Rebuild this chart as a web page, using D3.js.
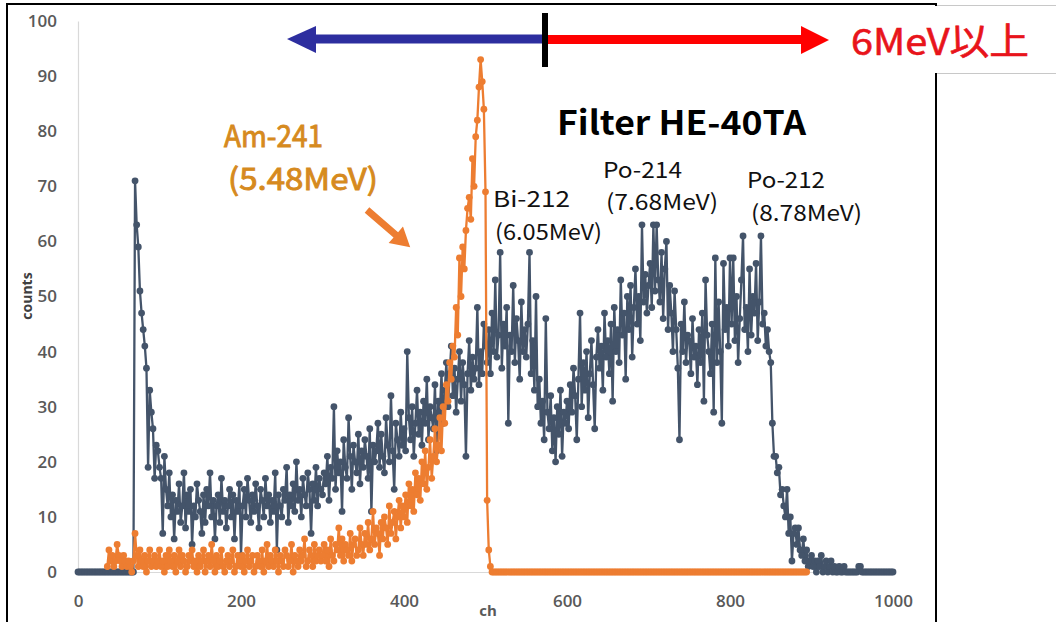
<!DOCTYPE html>
<html>
<head>
<meta charset="utf-8">
<script src="https://cdn.jsdelivr.net/npm/d3@7"></script>
<style>
  body { margin: 0; background: #fff; }
</style>
</head>
<body>
<svg id="chart"></svg>
<script>
// channel step between stored points, first channel of each series
var step = 2;
var navyStart = 0;
var orangeStart = 36;

// Filter HE-40TA spectrum (counts per channel)
var navyCounts = [
  0,0,0,0,0,0,0,0,0,0,0,0,0,0,0,0,0,0,0,0,0,0,0,0,0,
  0,0,0,0,0,0,0,0,0,0,71,63,59,51,47,44,41,37,19,33,29,26,17,23,22,
  19,17,7,21,15,12,18,10,14,6,13,11,16,9,12,18,8,14,11,15,5,12,10,16,13,
  11,7,14,9,15,12,18,10,13,6,12,14,9,17,11,13,8,12,15,10,14,6,13,11,16,
  3,12,15,10,17,13,9,14,11,16,12,8,15,13,10,17,12,14,9,13,11,18,4,14,12,
  10,15,13,19,9,14,12,16,11,20,13,15,10,17,14,12,18,15,7,16,13,19,12,17,15,
  14,18,16,21,13,19,17,30,15,22,18,20,11,24,19,17,28,21,15,23,20,18,25,16,22,
  19,24,21,17,26,11,23,20,22,27,19,25,21,18,28,23,20,32,22,15,27,24,21,29,23,
  26,22,40,28,24,30,21,27,33,25,29,23,31,27,35,24,30,28,26,34,22,31,29,36,27,
  33,38,30,36,41,32,37,29,35,40,31,38,34,21,36,42,33,39,35,37,48,34,40,36,45,
  41,38,44,36,47,40,53,39,43,58,37,45,41,48,27,43,40,52,38,46,42,35,49,40,44,
  39,45,58,36,42,33,50,30,35,27,31,24,46,29,26,32,22,28,20,30,25,33,21,29,27,
  31,26,34,29,37,32,24,35,47,30,38,33,40,28,36,42,34,26,39,44,37,41,33,47,39,
  42,36,45,31,48,40,44,38,53,43,47,35,50,44,52,39,48,55,45,50,42,63,49,54,47,
  52,56,48,63,51,63,53,49,58,46,55,60,44,52,47,40,51,44,37,24,45,40,49,38,43,
  42,36,46,39,41,34,44,38,47,31,53,43,40,36,45,29,57,38,49,40,27,56,44,48,41,
  57,45,57,42,50,38,46,53,61,44,48,40,55,43,50,47,56,42,49,61,45,47,41,44,40,
  38,27,21,21,18,19,14,15,12,10,15,7,10,2,7,8,5,8,4,3,6,2,4,1,2,
  3,1,2,0,2,1,3,0,1,2,0,1,2,0,1,0,0,1,0,0,1,0,0,0,0,
  0,0,0,0,1,1,0,0,0,0,0,0,0,0,0,0,0,0,0,0,0,0,0,0,0,
  0
];

// Am-241 reference source
var orangeCounts = [
  1,4,2,3,1,2,5,
  3,2,1,3,2,1,2,1,0,2,7,3,1,4,2,1,3,0,2,4,1,2,3,1,2,
  4,1,2,0,3,1,4,2,1,3,0,2,4,1,3,2,0,1,3,2,4,1,2,0,3,
  1,2,4,0,2,3,1,5,2,0,3,1,2,4,1,0,2,3,1,2,4,0,1,3,2,
  1,3,0,2,4,1,2,3,0,1,3,2,1,4,0,2,5,1,3,2,1,4,2,0,3,
  2,1,4,3,1,2,5,0,3,2,1,4,2,3,6,1,2,4,3,1,5,2,3,4,2,
  3,5,2,4,1,6,3,2,5,4,8,3,6,2,5,4,3,7,2,5,6,3,4,8,5,
  3,7,5,9,4,6,11,5,8,7,3,9,6,10,8,5,12,7,9,11,6,10,13,8,12,
  10,14,9,16,12,15,11,18,14,17,13,20,16,22,15,19,24,17,21,26,20,23,28,22,30,
  27,34,31,38,35,41,39,48,43,57,50,59,55,62,66,68,64,75,70,79,82,88,93,89,84,
  69,13,4,1,0,0,0,0,0,0,0,0,0,0,0,0,0,0,0,0,0,0,0,0,0,
  0,0,0,0,0,0,0,0,0,0,0,0,0,0,0,0,0,0,0,0,0,0,0,0,0,
  0,0,0,0,0,0,0,0,0,0,0,0,0,0,0,0,0,0,0,0,0,0,0,0,0,
  0,0,0,0,0,0,0,0,0,0,0,0,0,0,0,0,0,0,0,0,0,0,0,0,0,
  0,0,0,0,0,0,0,0,0,0,0,0,0,0,0,0,0,0,0,0,0,0,0,0,0,
  0,0,0,0,0,0,0,0,0,0,0,0,0,0,0,0,0,0,0,0,0,0,0,0,0,
  0,0,0,0,0,0,0,0,0,0,0,0,0,0,0,0,0,0,0,0,0,0,0,0,0,
  0,0,0,0,0,0,0,0,0,0,0,0,0,0,0,0,0,0,0,0,0,0,0
];

var yTicks = [0, 10, 20, 30, 40, 50, 60, 70, 80, 90, 100];
var xTicks = [0, 200, 400, 600, 800, 1000];
var peakNames = ["Bi-212", "Po-214", "Po-212"];
var peakEnergies = ["(6.05MeV)", "(7.68MeV)", "(8.78MeV)"];
var amName = "Am-241", amEnergy = "(5.48MeV)";
var titleText = "Filter HE-40TA";
var rangeText = "6MeV以上";
var xLabel = "ch", yLabel = "counts";

var width = 1056, height = 622;
var navyColor = "#44546A", orangeColor = "#ED7D31";
var jpFont = "'Noto Sans CJK JP', 'Noto Sans', sans-serif";

var svg = d3.select("#chart")
    .attr("width", width)
    .attr("height", height)
    .style("display", "block");

// set the ranges
var x = d3.scaleLinear().domain([0, 1000]).range([78, 893]);
var y = d3.scaleLinear().domain([0, 100]).range([572, 21]);

// outer frame of the picture
svg.append("rect")
    .attr("x", 7).attr("y", 4)
    .attr("width", 929).attr("height", 660)
    .attr("fill", "#fff")
    .attr("stroke", "#000")
    .attr("stroke-width", 2);

// Y axis
var yAxis = svg.append("g")
    .attr("transform", "translate(" + x(0) + ",0)")
    .call(d3.axisLeft(y).tickValues(yTicks).tickSize(0).tickPadding(21));
// X axis
var xAxis = svg.append("g")
    .attr("transform", "translate(0," + y(0) + ")")
    .call(d3.axisBottom(x).tickValues(xTicks).tickFormat(d3.format("d")).tickSize(0).tickPadding(23));

[yAxis, xAxis].forEach(function(g) {
    g.select(".domain").attr("stroke", "#D9D9D9").attr("stroke-width", 1.2);
    g.selectAll("text")
        .attr("fill", "#595959")
        .style("font-family", "'Open Sans', sans-serif")
        .style("font-size", "17px")
        .style("font-weight", "600");
});

svg.append("text")
    .attr("x", 488).attr("y", 616)
    .attr("text-anchor", "middle")
    .attr("fill", "#595959")
    .style("font-family", "'Open Sans', sans-serif")
    .style("font-size", "15px")
    .style("font-weight", "700")
    .text(xLabel);

svg.append("text")
    .attr("transform", "translate(32,296) rotate(-90)")
    .attr("text-anchor", "middle")
    .attr("fill", "#404040")
    .style("font-family", "'Open Sans', sans-serif")
    .style("font-size", "14px")
    .style("font-weight", "700")
    .text(yLabel);

// series
function toPoints(values, start) {
    return values.map(function(v, i) { return { ch: start + i * step, v: v }; });
}

var valueline = d3.line()
    .x(function(d) { return x(d.ch); })
    .y(function(d) { return y(d.v); });

function drawSeries(values, start, color, cls) {
    var pts = toPoints(values, start);
    svg.append("path")
        .datum(pts)
        .attr("class", "line " + cls)
        .attr("d", valueline)
        .attr("fill", "none")
        .attr("stroke", color)
        .attr("stroke-width", 2.3)
        .attr("stroke-linejoin", "round");
    svg.append("g").selectAll("circle")
        .data(pts)
        .enter().append("circle")
        .attr("class", "dot " + cls)
        .attr("cx", function(d) { return x(d.ch); })
        .attr("cy", function(d) { return y(d.v); })
        .attr("r", 3.4)
        .attr("fill", color);
}

drawSeries(navyCounts, navyStart, navyColor, "navy");
drawSeries(orangeCounts, orangeStart, orangeColor, "orange");

// energy range arrows at the top
svg.append("rect").attr("x", 312).attr("y", 34.5).attr("width", 233).attr("height", 9).attr("fill", "#2D2E9F");
svg.append("polygon").attr("points", "287,39 316,26 316,53").attr("fill", "#2D2E9F");
svg.append("rect").attr("x", 545).attr("y", 35).attr("width", 258).attr("height", 9).attr("fill", "#FF0000");
svg.append("polygon").attr("points", "829,40 801,26 801,54").attr("fill", "#FF0000");
svg.append("rect").attr("x", 542).attr("y", 13).attr("width", 6).attr("height", 54).attr("fill", "#000");

// box for the 6MeV label (sits over the frame)
svg.append("rect").attr("x", 846).attr("y", 6).attr("width", 215).attr("height", 67).attr("fill", "#fff");
svg.append("line").attr("x1", 937).attr("x2", 1056).attr("y1", 5.5).attr("y2", 5.5).attr("stroke", "#C8C8C8");
svg.append("line").attr("x1", 937).attr("x2", 1056).attr("y1", 73.5).attr("y2", 73.5).attr("stroke", "#C8C8C8");

function label(txt, lx, ly, size, len, color, weight, thick) {
    svg.append("text")
        .attr("x", lx).attr("y", ly)
        .attr("textLength", len)
        .attr("lengthAdjust", "spacingAndGlyphs")
        .attr("fill", color)
        .attr("stroke", thick ? color : "none")
        .attr("stroke-width", thick || 0)
        .style("font-family", jpFont)
        .style("font-size", size + "px")
        .style("font-weight", weight || 400)
        .text(txt);
}

label(rangeText, 851, 55, 37, 178, "#E8141B", 400, 0.6);
label(titleText, 557, 135, 33, 249, "#000", 700);
label(amName, 224, 147, 30, 99, "#D68A1E", 400, 0.9);
label(amEnergy, 228, 190, 30, 150, "#D68A1E", 400, 0.9);

var nameX = [493, 603, 747], nameY = [207, 178, 188];
var energyX = [495, 606, 751], energyY = [240, 210, 221];
var nameLen = [77, 79, 78], energyLen = [107, 112, 111];
peakNames.forEach(function(n, i) {
    label(n, nameX[i], nameY[i], 22, nameLen[i], "#111");
    label(peakEnergies[i], energyX[i], energyY[i], 22, energyLen[i], "#111");
});

// orange pointer arrow to the Am-241 peak
svg.append("polygon")
    .attr("transform", "translate(367,210) rotate(40.7)")
    .attr("points", "0,-3.5 38,-3.5 38,-11 57,0 38,11 38,3.5 0,3.5")
    .attr("fill", orangeColor);
</script>
</body>
</html>
